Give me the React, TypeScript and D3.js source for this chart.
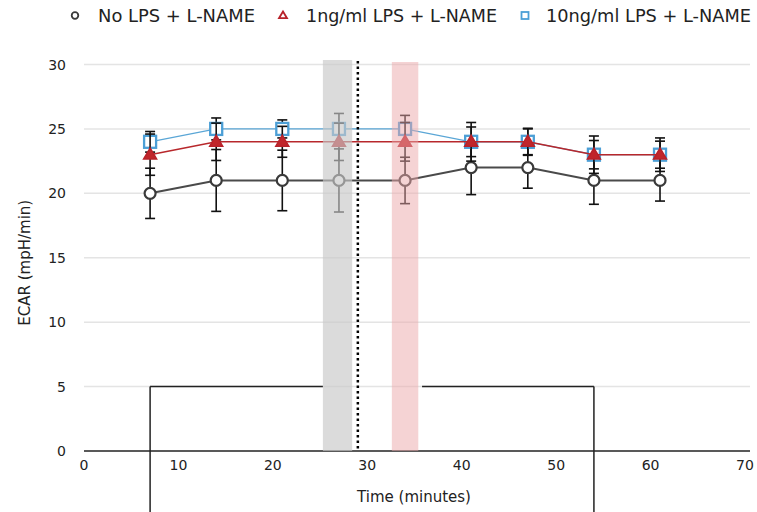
import React from 'react';
import * as d3 from 'd3';

// time points (minutes)
const times = [7, 14, 21, 27, 34, 41, 47, 54, 61];

const noLps = [20, 21, 21, 21, 21, 22, 22, 21, 21];
const noLpsErr = [1.95, 2.4, 2.35, 2.45, 1.8, 2.1, 1.6, 1.85, 1.6];

const lps1 = [23, 24, 24, 24, 24, 24, 24, 23, 23];
const lps1Err = [1.6, 1.45, 1.2, 1.45, 1.5, 1.5, 1.05, 1.45, 1.3];

const lps10 = [24, 25, 25, 25, 25, 24, 24, 23, 23];
const lps10Err = [0.8, 0.85, 0.7, 1.2, 1.05, 1.15, 1.0, 1.1, 1.05];

const xTicks = [0, 10, 20, 30, 40, 50, 60, 70];
const yTicks = [0, 5, 10, 15, 20, 25, 30];

const legendLabels = ['No LPS + L-NAME', '1ng/ml LPS + L-NAME', '10ng/ml LPS + L-NAME'];

// injection bands and marker (minutes)
const grayBand = [25.3, 28.4];
const pinkBand = [32.6, 35.4];
const dottedAt = 29;
// protocol box: start / end time, level, and the gap in its top edge
const boxSpan = [7, 54];
const boxLevel = 5;
const boxGap = [25.3, 35.8];

const W = 757;
const H = 512;
const font = '"DejaVu Sans", sans-serif';

const x = d3.scaleLinear().domain([0, 70]).range([84, 745]);
const y = d3.scaleLinear().domain([0, 30]).range([451, 64.5]);

type Series = {
  name: string;
  vals: number[];
  err: number[];
  stroke: string;
  lineWidth: number;
  marker: 'circle' | 'triangle' | 'square';
};

const series: Series[] = [
  { name: legendLabels[0], vals: noLps, err: noLpsErr, stroke: '#4a4a4a', lineWidth: 2, marker: 'circle' },
  { name: legendLabels[2], vals: lps10, err: lps10Err, stroke: '#5aa6d6', lineWidth: 1.3, marker: 'square' },
  { name: legendLabels[1], vals: lps1, err: lps1Err, stroke: '#b8282c', lineWidth: 1.6, marker: 'triangle' },
];

function Marker({ kind, cx, cy, legend }: { kind: string; cx: number; cy: number; legend?: boolean }) {
  if (kind === 'circle') {
    const r = legend ? 3.3 : 5.5;
    return <circle cx={cx} cy={cy} r={r} fill="#fff" stroke="#3a3a3a" strokeWidth={legend ? 1.8 : 2.2} />;
  }
  if (kind === 'square') {
    const s = legend ? 7 : 12;
    return (
      <rect x={cx - s / 2} y={cy - s / 2} width={s} height={s} fill="#fff" stroke="#4c9fd6" strokeWidth={legend ? 1.8 : 2.3} />
    );
  }
  const t = legend ? 8 : 13;
  const h = t * 0.85;
  const pts = [
    [cx, cy - h * 0.6],
    [cx - t / 2, cy + h * 0.4],
    [cx + t / 2, cy + h * 0.4],
  ];
  return (
    <polygon
      points={pts.map((p) => p.join(',')).join(' ')}
      fill={legend ? '#fff' : '#c0262b'}
      stroke="#b8222a"
      strokeWidth={legend ? 1.8 : 1.5}
    />
  );
}

export default function App() {
  const line = d3
    .line<number>()
    .x((_, i) => x(times[i]))
    .y((d) => y(d));

  const cap = 5;

  return (
    <svg width={W} height={H} style={{ position: 'absolute', left: 0, top: 0, background: '#fff' }}>
      {/* grid */}
      {yTicks.map((t) => (
        <line key={t} x1={x(0)} x2={750} y1={y(t)} y2={y(t)} stroke={t === 0 ? '#222' : '#e4e4e4'} strokeWidth={1.5} />
      ))}
      {yTicks.map((t) => (
        <text key={'yl' + t} x={66} y={y(t)} dy="0.36em" textAnchor="end" fontFamily={font} fontSize={14} fill="#222">
          {t}
        </text>
      ))}
      {xTicks.map((t) => (
        <text key={'xl' + t} x={x(t)} y={470} textAnchor="middle" fontFamily={font} fontSize={14} fill="#222">
          {t}
        </text>
      ))}
      <text x={414} y={502} textAnchor="middle" fontFamily={font} fontSize={15} fill="#222">
        Time (minutes)
      </text>
      <text
        transform={`translate(30,${y(15) + 5}) rotate(-90)`}
        textAnchor="middle"
        fontFamily={font}
        fontSize={15}
        fill="#222"
      >
        ECAR (mpH/min)
      </text>

      {/* protocol box */}
      <g stroke="#222" strokeWidth={1.5} fill="none">
        <line x1={x(boxSpan[0])} x2={x(boxSpan[0])} y1={y(boxLevel)} y2={H} />
        <line x1={x(boxSpan[1])} x2={x(boxSpan[1])} y1={y(boxLevel)} y2={H} />
        <line x1={x(boxSpan[0])} x2={x(boxGap[0])} y1={y(boxLevel)} y2={y(boxLevel)} />
        <line x1={x(boxGap[1])} x2={x(boxSpan[1])} y1={y(boxLevel)} y2={y(boxLevel)} />
      </g>

      {/* series */}
      {series.map((s) => (
        <g key={s.name}>
          <path d={line(s.vals) || ''} fill="none" stroke={s.stroke} strokeWidth={s.lineWidth} />
          {s.vals.map((v, i) => {
            const cx = x(times[i]);
            const lo = y(v - s.err[i]);
            const hi = y(v + s.err[i]);
            return (
              <g key={i} stroke="#111" strokeWidth={1.6}>
                <line x1={cx} x2={cx} y1={lo} y2={hi} />
                <line x1={cx - cap} x2={cx + cap} y1={lo} y2={lo} />
                <line x1={cx - cap} x2={cx + cap} y1={hi} y2={hi} />
              </g>
            );
          })}
          {s.vals.map((v, i) => (
            <Marker key={'m' + i} kind={s.marker} cx={x(times[i])} cy={y(v)} />
          ))}
        </g>
      ))}

      {/* bands over the data */}
      <rect x={x(grayBand[0])} y={60} width={x(grayBand[1]) - x(grayBand[0])} height={y(0) - 60} fill="#c8c8c8" opacity={0.65} />
      <rect x={x(pinkBand[0])} y={62} width={x(pinkBand[1]) - x(pinkBand[0])} height={y(0) - 62} fill="#eba8aa" opacity={0.5} />
      <line x1={x(dottedAt)} x2={x(dottedAt)} y1={61} y2={y(0)} stroke="#000" strokeWidth={2.5} strokeDasharray="2.5,3" />

      {/* legend */}
      <g fontFamily={font} fontSize={17} fill="#222">
        <Marker kind="circle" cx={75} cy={15.5} legend />
        <text x={98} y={15.5} dy="0.36em" textLength={157} lengthAdjust="spacingAndGlyphs">{legendLabels[0]}</text>
        <Marker kind="triangle" cx={283} cy={15.5} legend />
        <text x={306} y={15.5} dy="0.36em" textLength={191} lengthAdjust="spacingAndGlyphs">{legendLabels[1]}</text>
        <Marker kind="square" cx={525} cy={15.5} legend />
        <text x={546} y={15.5} dy="0.36em" textLength={205} lengthAdjust="spacingAndGlyphs">{legendLabels[2]}</text>
      </g>
    </svg>
  );
}
